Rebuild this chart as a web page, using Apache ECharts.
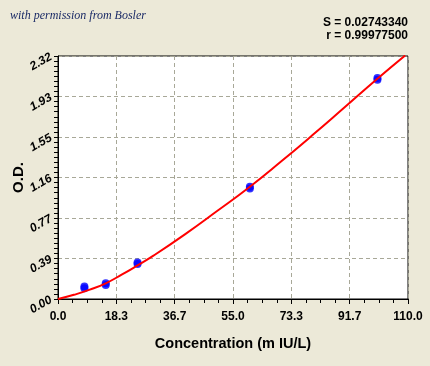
<!DOCTYPE html>
<html>
<head>
<meta charset="utf-8">
<script src="https://cdn.jsdelivr.net/npm/echarts@6/dist/echarts.min.js"></script>
<style>
html,body{margin:0;padding:0;background:#ECE9D8;}
#c{width:430px;height:366px;}
</style>
</head>
<body>
<div id="c"></div>
<script>
// Standards (duplicates)
const stdConc = [8.3, 8.3, 15.0, 15.0, 25.0, 25.0, 60.3, 60.3, 100.4, 100.4];
const stdOD   = [0.103, 0.120, 0.133, 0.150, 0.333, 0.349, 1.055, 1.072, 2.094, 2.111];
// Fitted curve, points
const curveConc = [0, 5, 10, 15, 20, 25, 30, 40, 50, 60, 70, 80, 90, 100, 109.1];
const curveOD   = [0, 0.040, 0.089, 0.150, 0.232, 0.321, 0.414, 0.620, 0.840, 1.065, 1.310, 1.565, 1.828, 2.093, 2.325];
// Axis ticks
const xMax = 110.0;
const yMax = 2.32;
const xTickCount = 6;
const yTickCount = 6;
const statS = "S = 0.02743340";
const statR = "r = 0.99977500";

const chart = echarts.init(document.getElementById('c'), null, {renderer:'canvas'});
const lab = {fontFamily:'"Liberation Sans",Arial', fontWeight:'bold', color:'#000', fontSize:12};
chart.setOption({
  backgroundColor:'#ECE9D8',
  animation:false,
  grid:{left:58, top:56, right:22, bottom:67, containLabel:false, outerBoundsMode:'none',
        show:true, backgroundColor:'#fff', borderColor:'#000', borderWidth:1},
  graphic:[
    {type:'text', left:10, top:10, style:{text:'with permission from Bosler', font:'italic 12px "Liberation Serif", serif', fill:'#1A2A66'}},
    {type:'text', right:22, top:17, style:{text:statS, font:'bold 12px "Liberation Sans", Arial', fill:'#000', textAlign:'right'}},
    {type:'text', right:22, top:30, style:{text:statR, font:'bold 12px "Liberation Sans", Arial', fill:'#000', textAlign:'right'}}
  ],
  xAxis:{
    type:'value', min:0, max:xMax, interval:xMax/xTickCount,
    name:'Concentration (m IU/L)', nameLocation:'middle', nameGap:37, nameMoveOverlap:false,
    nameTextStyle:{fontFamily:'"Liberation Sans",Arial', fontWeight:'bold', fontSize:14.5, color:'#000'},
    axisLine:{lineStyle:{color:'#000', width:1}},
    axisTick:{show:true, length:5, lineStyle:{color:'#000'}},
    minorTick:{show:true, splitNumber:4, length:4, lineStyle:{color:'#000'}},
    axisLabel:Object.assign({margin:12, formatter:v=>v.toFixed(1)}, lab),
    splitLine:{show:true, lineStyle:{color:'#A8A898', type:[4,3], width:1}}
  },
  yAxis:{
    type:'value', min:0, max:yMax, interval:yMax/yTickCount,
    name:'O.D.', nameLocation:'middle', nameGap:32, nameMoveOverlap:false,
    nameTextStyle:{fontFamily:'"Liberation Sans",Arial', fontWeight:'bold', fontSize:15, color:'#000'},
    axisLine:{show:true, lineStyle:{color:'#000', width:1}},
    axisTick:{show:true, length:4, lineStyle:{color:'#000'}},
    minorTick:{show:true, splitNumber:8, length:4, lineStyle:{color:'#000'}},
    axisLabel:Object.assign({margin:7, rotate:30, fontStyle:'italic', formatter:v=>v.toFixed(2)}, lab),
    splitLine:{show:true, lineStyle:{color:'#A8A898', type:[4,3], width:1}}
  },
  series:[
    {type:'line', data:curveConc.map((x,i)=>[x,curveOD[i]]), smooth:true, showSymbol:false,
     lineStyle:{color:'#FF0000', width:2}, clip:true, z:3},
    {type:'scatter', data:stdConc.map((x,i)=>[x,stdOD[i]]), symbol:'circle', symbolSize:8,
     itemStyle:{color:'#0000FF'}, z:2}
  ]
});
</script>
</body>
</html>
